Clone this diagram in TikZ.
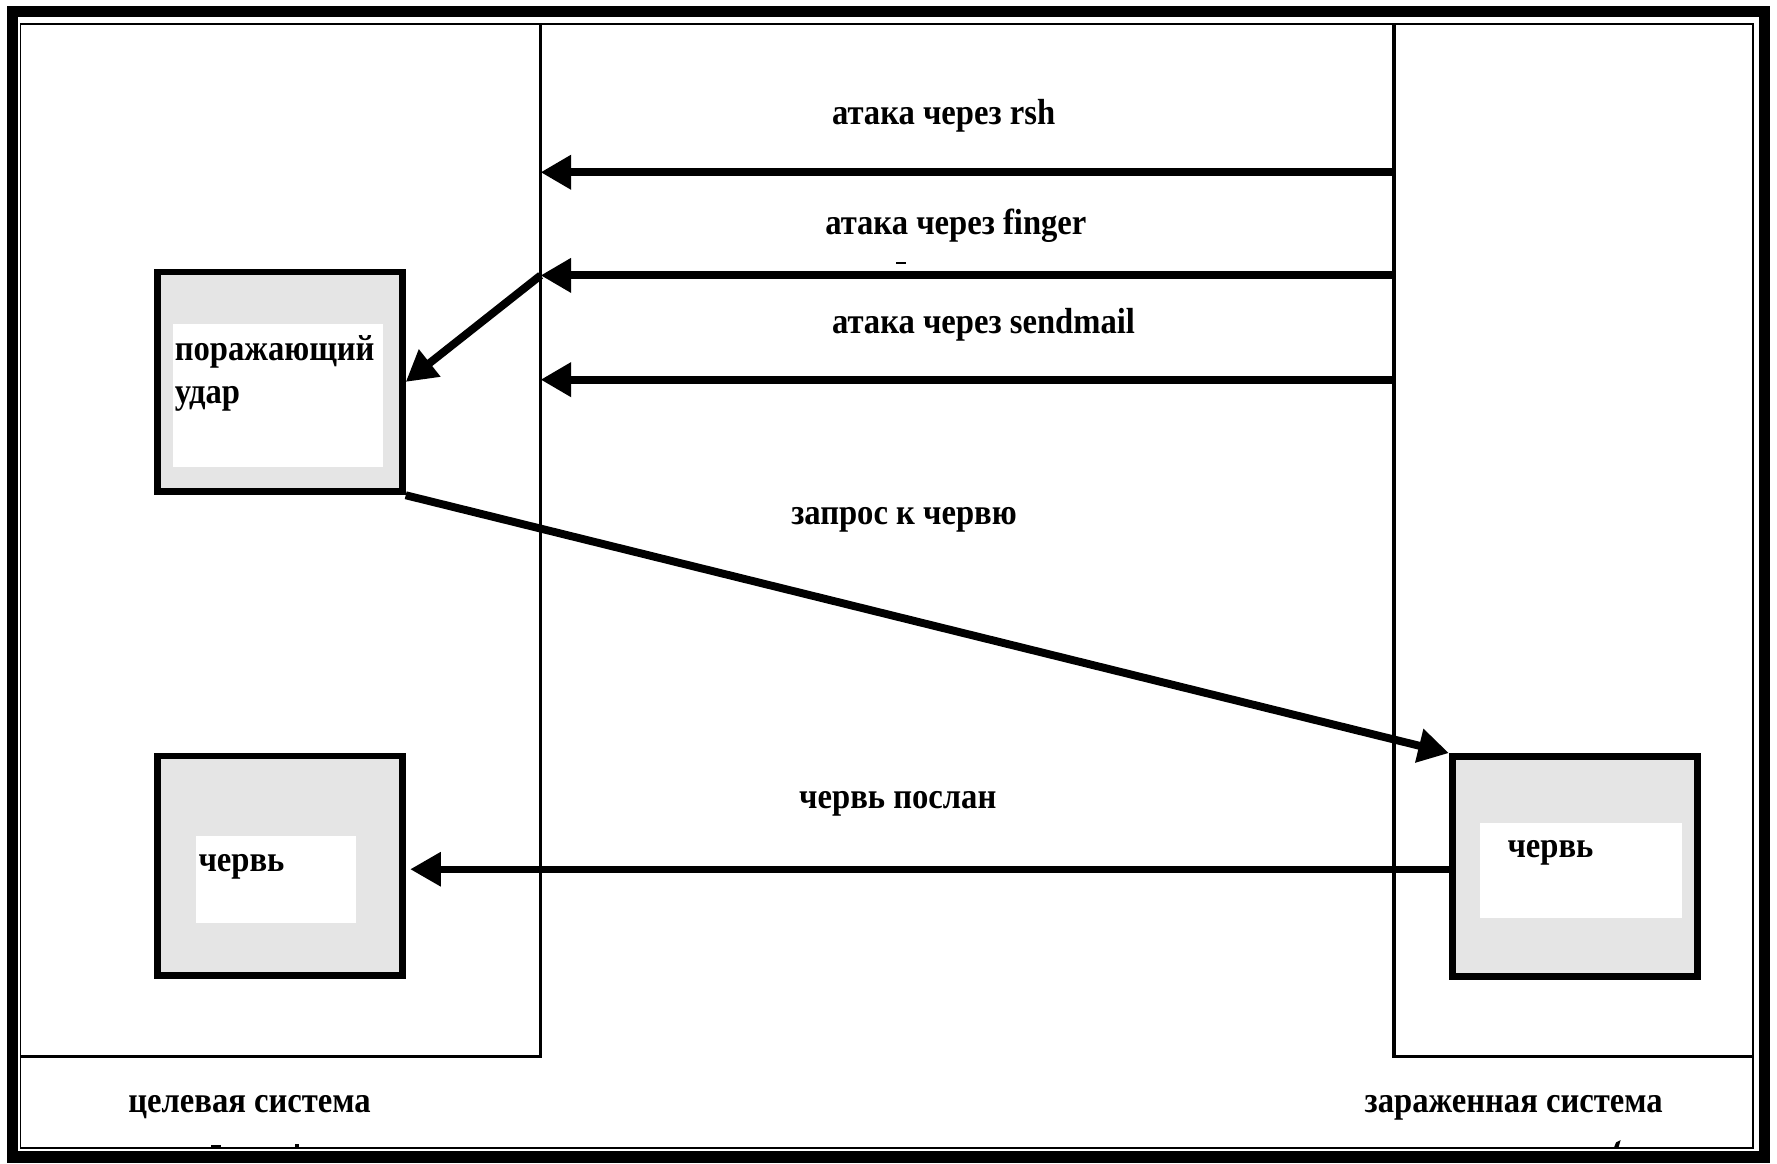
\documentclass[tikz,border=0pt]{standalone}
\usepackage{fontspec}
\setmainfont{Liberation Serif}[FakeStretch=0.9]
\usetikzlibrary{arrows.meta}
\tikzset{
  frameline/.style={line width=10pt},
  thinframe/.style={line width=1.5pt},
  colline/.style={line width=3pt},
  sysbox/.style={draw, line width=6pt, fill=black!10, minimum width=216pt, minimum height=194pt, inner sep=0pt},
  whitepad/.style={fill=white, draw=none},
  lbl/.style={font=\fontsize{32}{36}\selectfont\bfseries, inner sep=0pt, anchor=base west},
  arr/.style={line width=7pt, -{Triangle[length=27pt,width=29pt]}},
  arrthin/.style={line width=6pt, -{Triangle[length=27pt,width=29pt]}}
}
\begin{document}
\begin{tikzpicture}[x=1pt,y=-1pt]
\useasboundingbox (0,0) rectangle (1568,1027);
% outer frame
\draw[frameline] (11,10) rectangle (1557,1021);
\draw[thinframe] (18,21) rectangle (1547,1013);
% system columns
\draw[colline] (477,21) -- (477,932) -- (18,932);
\draw[colline] (1230,21) -- (1230,932) -- (1547,932);
% boxes
\node[sysbox] (strike) at (247,337) {};
\node[sysbox] (wormL) at (247,764) {};
\node[sysbox] (wormR) at (1389.5,764.5) {};
\fill[whitepad] (153,286) rectangle (338,412);
\fill[whitepad] (173,738) rectangle (314,814);
\fill[whitepad] (1306,726) rectangle (1484,810);
\node[lbl] (t1) at (154,318) {поражающий};
\node[lbl] (t2) at (154,356) {удар};
\node[lbl] (t3) at (175,769) {червь};
\node[lbl] (t4) at (1330,757) {червь};
% connector end points on the column lines
\coordinate (rshR) at (1230,152);
\coordinate (rshL) at (477,152);
\coordinate (fingerR) at (1230,243);
\coordinate (fingerL) at (477,243);
\coordinate (sendR) at (1230,335);
\coordinate (sendL) at (477,335);
% arrows
\draw[arr] (rshR) -- (rshL);
\draw[arr] (fingerR) -- (fingerL);
\draw[arr] (sendR) -- (sendL);
\draw[arr] (fingerL) -- (strike.east);
\draw[arr] (strike.south east) -- (wormR.north west);
\draw[arrthin] (wormR.west |- 0,767) -- ([xshift=4pt]wormL.east |- 0,767);
% labels
\node[lbl] (l1) at (734,110) {атака через rsh};
\node[lbl] (l2) at (728,207) {атака через finger};
\node[lbl] (l3) at (734,294) {атака через sendmail};
\node[lbl] (l4) at (698,463) {запрос к червю};
\node[lbl] (l5) at (705,713) {червь послан};
\node[lbl] (l6) at (113,982) {целевая система};
\node[lbl] (l7) at (1204,982) {зараженная система};
% small marks
\fill (791,231) rectangle (799,233);
\fill (186,1010) rectangle (195,1013);
\fill (260,1009) rectangle (264,1013);
\fill (1426,1008) -- (1430,1006) -- (1428,1013) -- (1424,1013) -- cycle;
\end{tikzpicture}
\end{document}
